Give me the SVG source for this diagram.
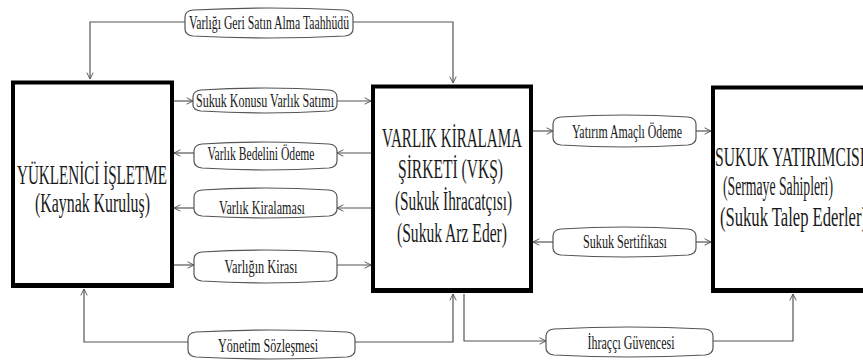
<svg xmlns="http://www.w3.org/2000/svg" width="863" height="360" viewBox="0 0 863 360">
<style>
.box{fill:#fff;stroke:#000;stroke-width:4}
.pill{fill:#fff;stroke:#555;stroke-width:1.2}
.con{fill:none;stroke:#555;stroke-width:1.2}
.bt{font-family:"Liberation Serif","Times New Roman",serif;font-size:27px;fill:#1a1a1a}
.lt{font-family:"Liberation Serif","Times New Roman",serif;font-size:19px;fill:#1a1a1a;text-anchor:middle}
</style>
<defs>
<marker id="ah" viewBox="0 0 10 10" refX="9" refY="5" markerWidth="8" markerHeight="8" markerUnits="userSpaceOnUse" orient="auto">
<path d="M1,1 L9,5 L1,9" fill="none" stroke="#555" stroke-width="1.2"/>
</marker>
</defs>
<rect width="863" height="360" fill="#fff"/>
<g id="connectors">
<polyline class="con" points="185,22 90,22 90,79" marker-end="url(#ah)"/>
<polyline class="con" points="353,22 453,22 453,83" marker-end="url(#ah)"/>
<line class="con" x1="174" y1="101" x2="193" y2="101" marker-end="url(#ah)"/>
<line class="con" x1="337" y1="101" x2="371" y2="101" marker-end="url(#ah)"/>
<line class="con" x1="371" y1="153" x2="337" y2="153" marker-end="url(#ah)"/>
<line class="con" x1="194" y1="153" x2="174" y2="153" marker-end="url(#ah)"/>
<line class="con" x1="371" y1="208" x2="337" y2="208" marker-end="url(#ah)"/>
<line class="con" x1="194" y1="208" x2="174" y2="208" marker-end="url(#ah)"/>
<line class="con" x1="174" y1="265" x2="194" y2="265" marker-end="url(#ah)"/>
<line class="con" x1="337" y1="265" x2="371" y2="265" marker-end="url(#ah)"/>
<line class="con" x1="533" y1="131" x2="553" y2="131" marker-end="url(#ah)"/>
<line class="con" x1="696" y1="131" x2="711" y2="131" marker-end="url(#ah)"/>
<line class="con" x1="553" y1="242" x2="533" y2="242" marker-end="url(#ah)"/>
<line class="con" x1="696" y1="242" x2="711" y2="242" marker-end="url(#ah)"/>
<polyline class="con" points="188,342 84,342 84,289" marker-end="url(#ah)"/>
<polyline class="con" points="355,342 453,342 453,294" marker-end="url(#ah)"/>
<polyline class="con" points="464,294 464,341 546,341" marker-end="url(#ah)"/>
<polyline class="con" points="713,341 793,341 793,294" marker-end="url(#ah)"/>
</g>
<g id="n-yuklenici">
<rect class="box" x="13" y="82.5" width="159" height="203.5"/>
<rect x="11" y="283" width="163" height="5" fill="#000"/>
<text class="bt" x="17" y="184" textLength="150" lengthAdjust="spacingAndGlyphs">YÜKLENİCİ İŞLETME</text>
<text class="bt" x="35" y="212" textLength="115" lengthAdjust="spacingAndGlyphs">(Kaynak Kuruluş)</text>
</g>
<g id="n-vks">
<rect class="box" x="373" y="86.5" width="158" height="204.5"/>
<rect x="371" y="288" width="162" height="5" fill="#000"/>
<text class="bt" x="382" y="147" textLength="140" lengthAdjust="spacingAndGlyphs">VARLIK KİRALAMA</text>
<text class="bt" x="398" y="178" textLength="105" lengthAdjust="spacingAndGlyphs">ŞİRKETİ (VKŞ)</text>
<text class="bt" x="395" y="210" textLength="117" lengthAdjust="spacingAndGlyphs">(Sukuk İhracatçısı)</text>
<text class="bt" x="397" y="242" textLength="110" lengthAdjust="spacingAndGlyphs">(Sukuk Arz Eder)</text>
</g>
<g id="n-yatirimci">
<rect class="box" x="713" y="87.5" width="200" height="203.5"/>
<rect x="711" y="288" width="160" height="5" fill="#000"/>
<text class="bt" x="715" y="166" textLength="150" lengthAdjust="spacingAndGlyphs">SUKUK YATIRIMCISI</text>
<text class="bt" x="723" y="195" textLength="110" lengthAdjust="spacingAndGlyphs">(Sermaye Sahipleri)</text>
<text class="bt" x="720" y="226" textLength="147" lengthAdjust="spacingAndGlyphs">(Sukuk Talep Ederler)</text>
</g>
<g id="l-taahhut">
<path class="pill" d="M193,10 Q269,6 345,10 Q353,11 353,17 L353,29 Q353,35 345,36 Q269,40 193,36 Q185,35 185,29 L185,17 Q185,11 193,10 Z"/>
<text class="lt" x="269" y="29" textLength="160" lengthAdjust="spacingAndGlyphs">Varlığı Geri Satın Alma Taahhüdü</text>
</g>
<g id="l-satim">
<path class="pill" d="M201,90 Q265,86 329,90 Q337,91 337,97 L337,105 Q337,110 329,111 Q265,115 201,111 Q193,110 193,105 L193,97 Q193,91 201,90 Z"/>
<text class="lt" x="265" y="107" textLength="138" lengthAdjust="spacingAndGlyphs">Sukuk Konusu Varlık Satımı</text>
</g>
<g id="l-bedel">
<path class="pill" d="M202,144 Q265,140 329,144 Q337,145 337,151 L337,161 Q337,167 329,168 Q265,172 202,168 Q194,167 194,161 L194,151 Q194,145 202,144 Z"/>
<text class="lt" x="261" y="160" textLength="107" lengthAdjust="spacingAndGlyphs">Varlık Bedelini Ödeme</text>
</g>
<g id="l-kiralama">
<path class="pill" d="M202,190 Q265,186 329,190 Q337,191 337,197 L337,209 Q337,215 329,216 Q265,220 202,216 Q194,215 194,209 L194,197 Q194,191 202,190 Z"/>
<text class="lt" x="262" y="214" textLength="86" lengthAdjust="spacingAndGlyphs">Varlık Kiralaması</text>
</g>
<g id="l-kira">
<path class="pill" d="M202,252 Q265,248 329,252 Q337,253 337,259 L337,274 Q337,280 329,281 Q265,285 202,281 Q194,280 194,274 L194,259 Q194,253 202,252 Z"/>
<text class="lt" x="261" y="273" textLength="73" lengthAdjust="spacingAndGlyphs">Varlığın Kirası</text>
</g>
<g id="l-yonetim">
<path class="pill" d="M196,332 Q271,328 347,332 Q355,333 355,339 L355,350 Q355,356 347,357 Q271,361 196,357 Q188,356 188,350 L188,339 Q188,333 196,332 Z"/>
<text class="lt" x="268" y="352" textLength="100" lengthAdjust="spacingAndGlyphs">Yönetim Sözleşmesi</text>
</g>
<g id="l-ihracci">
<path class="pill" d="M554,329 Q629,325 705,329 Q713,330 713,336 L713,348 Q713,354 705,355 Q629,359 554,355 Q546,354 546,348 L546,336 Q546,330 554,329 Z"/>
<text class="lt" x="631" y="349" textLength="87" lengthAdjust="spacingAndGlyphs">İhraççı Güvencesi</text>
</g>
<g id="l-yatirim">
<path class="pill" d="M561,117 Q624,113 688,117 Q696,118 696,124 L696,138 Q696,144 688,145 Q624,149 561,145 Q553,144 553,138 L553,124 Q553,118 561,117 Z"/>
<text class="lt" x="627" y="138" textLength="110" lengthAdjust="spacingAndGlyphs">Yatırım Amaçlı Ödeme</text>
</g>
<g id="l-sertifika">
<path class="pill" d="M561,229 Q624,225 688,229 Q696,230 696,236 L696,248 Q696,254 688,255 Q624,259 561,255 Q553,254 553,248 L553,236 Q553,230 561,229 Z"/>
<text class="lt" x="625" y="248" textLength="84" lengthAdjust="spacingAndGlyphs">Sukuk Sertifikası</text>
</g>
</svg>
